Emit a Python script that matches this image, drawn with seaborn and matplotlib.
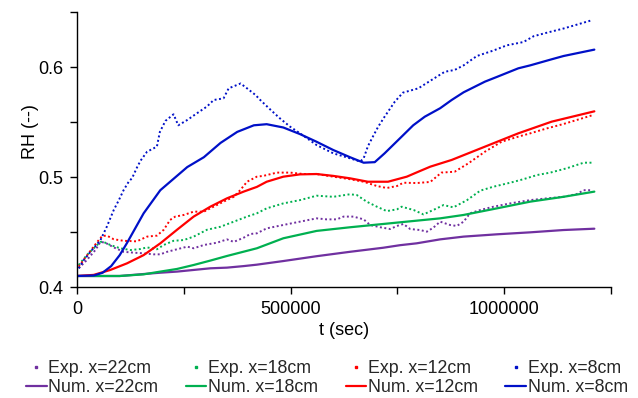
import matplotlib
matplotlib.use("Agg")
import matplotlib.pyplot as plt
from matplotlib.lines import Line2D
import pandas as pd
import seaborn as sns

# ---------------- data (t in seconds, RH in --) ----------------
exp22_t = [4e3, 23e3, 43e3, 55e3, 66e3, 86e3, 109e3, 133e3, 156e3, 179e3, 195e3, 211e3, 234e3, 258e3,
           273e3, 297e3, 328e3, 351e3, 367e3, 390e3, 406e3, 421e3, 444e3, 483e3, 522e3, 561e3, 584e3,
           608e3, 624e3, 647e3, 671e3, 686e3, 710e3, 733e3, 749e3, 764e3, 780e3, 803e3, 819e3, 834e3,
           850e3, 873e3, 889e3, 905e3, 920e3, 944e3, 975e3, 1014e3, 1061e3, 1100e3, 1139e3, 1170e3,
           1186e3, 1205e3]
exp22_rh = [0.417, 0.4245, 0.4336, 0.441, 0.4403, 0.436, 0.432, 0.4312, 0.4306, 0.4297, 0.4297, 0.432,
            0.4343, 0.4367, 0.4352, 0.4382, 0.4403, 0.4433, 0.441, 0.4448, 0.4482, 0.4488, 0.4533, 0.4564,
            0.4594, 0.4624, 0.4615, 0.4615, 0.464, 0.464, 0.4615, 0.4564, 0.4543, 0.4527, 0.4555, 0.4573,
            0.4527, 0.4518, 0.4503, 0.4539, 0.4594, 0.4564, 0.4555, 0.4594, 0.467, 0.47, 0.473, 0.476,
            0.479, 0.4806, 0.482, 0.4845, 0.488, 0.488]

exp18_t = [4e3, 23e3, 43e3, 55e3, 62e3, 78e3, 101e3, 125e3, 148e3, 164e3, 187e3, 203e3, 226e3, 250e3,
           273e3, 304e3, 336e3, 367e3, 398e3, 421e3, 444e3, 483e3, 522e3, 561e3, 600e3, 639e3, 655e3,
           678e3, 702e3, 725e3, 749e3, 760e3, 788e3, 811e3, 834e3, 858e3, 881e3, 913e3, 944e3, 975e3,
           1014e3, 1045e3, 1077e3, 1108e3, 1147e3, 1186e3, 1205e3]
exp18_rh = [0.42, 0.429, 0.4367, 0.441, 0.441, 0.4382, 0.4352, 0.4336, 0.4345, 0.436, 0.4343, 0.4382,
            0.442, 0.4427, 0.4458, 0.452, 0.4548, 0.4594, 0.464, 0.467, 0.4715, 0.476, 0.479, 0.483,
            0.482, 0.4843, 0.4836, 0.4776, 0.473, 0.469, 0.4706, 0.473, 0.47, 0.466, 0.47, 0.4745,
            0.4724, 0.479, 0.4876, 0.4912, 0.4948, 0.498, 0.5018, 0.504, 0.508, 0.513, 0.513]

exp12_t = [4e3, 20e3, 39e3, 51e3, 59e3, 70e3, 86e3, 109e3, 140e3, 164e3, 187e3, 203e3, 218e3, 230e3,
           250e3, 273e3, 297e3, 312e3, 343e3, 367e3, 382e3, 398e3, 421e3, 436e3, 468e3, 499e3, 530e3,
           561e3, 600e3, 639e3, 671e3, 702e3, 725e3, 749e3, 764e3, 795e3, 827e3, 853e3, 884e3, 916e3,
           955e3, 994e3, 1033e3, 1061e3, 1100e3, 1139e3, 1205e3]
exp12_rh = [0.4185, 0.427, 0.4367, 0.4427, 0.4464, 0.4467, 0.4434, 0.442, 0.4415, 0.4458, 0.4467, 0.452,
            0.461, 0.464, 0.4655, 0.4685, 0.4685, 0.4715, 0.4776, 0.482, 0.488, 0.4957, 0.5003, 0.501,
            0.504, 0.504, 0.5027, 0.5027, 0.5003, 0.498, 0.4957, 0.4918, 0.49, 0.4918, 0.4948, 0.4945,
            0.4955, 0.504, 0.5048, 0.5124, 0.523, 0.5321, 0.5367, 0.5397, 0.5442, 0.5482, 0.556]

exp8_t = [4e3, 16e3, 35e3, 55e3, 70e3, 86e3, 98e3, 109e3, 121e3, 129e3, 142e3, 150e3, 164e3, 187e3,
          194e3, 207e3, 226e3, 237e3, 258e3, 281e3, 304e3, 320e3, 343e3, 355e3, 383e3, 398e3, 418e3,
          429e3, 452e3, 475e3, 499e3, 522e3, 561e3, 600e3, 639e3, 663e3, 671e3, 681e3, 693e3, 705e3,
          720e3, 744e3, 763e3, 799e3, 830e3, 861e3, 884e3, 905e3, 936e3, 975e3, 1006e3, 1045e3,
          1069e3, 1100e3, 1139e3, 1170e3, 1205e3]
exp8_rh = [0.417, 0.4245, 0.4336, 0.4427, 0.455, 0.47, 0.479, 0.488, 0.4957, 0.499, 0.51, 0.5155,
           0.523, 0.5276, 0.541, 0.551, 0.557, 0.547, 0.5518, 0.558, 0.564, 0.57, 0.5715, 0.5806, 0.585,
           0.5806, 0.5745, 0.57, 0.5615, 0.5533, 0.5457, 0.5397, 0.529, 0.5215, 0.517, 0.514, 0.517,
           0.528, 0.537, 0.5457, 0.5548, 0.5685, 0.5767, 0.5806, 0.5882, 0.5957, 0.5973, 0.6015, 0.61,
           0.615, 0.6197, 0.6227, 0.628, 0.6312, 0.635, 0.6385, 0.6425]

num22_t = [0, 100e3, 156e3, 195e3, 234e3, 273e3, 312e3, 351e3, 390e3, 421e3, 483e3, 561e3, 639e3,
           717e3, 756e3, 795e3, 850e3, 905e3, 983e3, 1061e3, 1139e3, 1211e3]
num22_rh = [0.41, 0.41, 0.4118, 0.413, 0.414, 0.4155, 0.417, 0.4176, 0.419, 0.4203, 0.4236, 0.428,
            0.432, 0.4357, 0.438, 0.4397, 0.4433, 0.4458, 0.4479, 0.4497, 0.4518, 0.453]

num18_t = [0, 100e3, 156e3, 195e3, 234e3, 273e3, 312e3, 351e3, 390e3, 421e3, 483e3, 561e3, 639e3,
           717e3, 795e3, 850e3, 905e3, 983e3, 1061e3, 1139e3, 1211e3]
num18_rh = [0.41, 0.41, 0.4115, 0.414, 0.4164, 0.42, 0.424, 0.4282, 0.4321, 0.4352, 0.4443, 0.451,
            0.4543, 0.4573, 0.4603, 0.4624, 0.4655, 0.4715, 0.4776, 0.482, 0.4867]

num12_t = [0, 39e3, 78e3, 117e3, 156e3, 195e3, 234e3, 273e3, 312e3, 351e3, 390e3, 421e3, 444e3,
           483e3, 522e3, 561e3, 600e3, 639e3, 681e3, 728e3, 772e3, 799e3, 827e3, 877e3, 955e3,
           1033e3, 1111e3, 1211e3]
num12_rh = [0.41, 0.411, 0.4155, 0.4215, 0.429, 0.4397, 0.452, 0.464, 0.473, 0.4806, 0.4867, 0.491,
            0.4957, 0.5003, 0.5024, 0.5027, 0.501, 0.4988, 0.4957, 0.4957, 0.5003, 0.5048, 0.5094,
            0.5155, 0.5276, 0.5397, 0.5503, 0.5597]

num8_t = [0, 40e3, 60e3, 80e3, 100e3, 117e3, 156e3, 195e3, 222e3, 258e3, 297e3, 336e3, 375e3, 414e3,
          444e3, 483e3, 522e3, 561e3, 600e3, 639e3, 671e3, 697e3, 720e3, 760e3, 787e3, 814e3, 850e3,
          877e3, 905e3, 955e3, 983e3, 1033e3, 1061e3, 1111e3, 1139e3, 1211e3]
num8_rh = [0.41, 0.4105, 0.413, 0.419, 0.429, 0.44, 0.467, 0.488, 0.497, 0.509, 0.518, 0.531, 0.541,
           0.547, 0.548, 0.545, 0.539, 0.532, 0.5245, 0.518, 0.513, 0.5135, 0.5215, 0.5367, 0.547,
           0.5548, 0.5625, 0.57, 0.577, 0.5867, 0.591, 0.5988, 0.6015, 0.607, 0.61, 0.6158]

labels_exp = ["Exp. x=22cm", "Exp. x=18cm", "Exp. x=12cm", "Exp. x=8cm"]
labels_num = ["Num. x=22cm", "Num. x=18cm", "Num. x=12cm", "Num. x=8cm"]
colors = ["#7030A0", "#00B050", "#FF0000", "#0010C8"]

x_ticks = [0, 250000, 500000, 750000, 1000000, 1250000]
x_labels = ["0", "", "500000", "", "1000000", ""]
y_ticks = [0.4, 0.45, 0.5, 0.55, 0.6, 0.65]
y_labels = ["0.4", "", "0.5", "", "0.6", ""]

# ---------------- plotting ----------------
sns.set_theme(style="white")
plt.rcParams["font.family"] = ["Liberation Sans", "DejaVu Sans"]

fig = plt.figure(figsize=(6.38, 3.98), dpi=100)
ax = fig.add_axes([77 / 638, 1 - 287 / 398, (611 - 77) / 638, (287 - 12) / 398])

exp_series = [(exp22_t, exp22_rh), (exp18_t, exp18_rh), (exp12_t, exp12_rh), (exp8_t, exp8_rh)]
num_series = [(num22_t, num22_rh), (num18_t, num18_rh), (num12_t, num12_rh), (num8_t, num8_rh)]

for (t, rh), c in zip(exp_series, colors):
    df = pd.DataFrame({"t": t, "rh": rh})
    sns.lineplot(data=df, x="t", y="rh", ax=ax, color=c, linewidth=1.4,
                 linestyle=(0, (1, 1.3)), estimator=None, sort=False)
for (t, rh), c in zip(num_series, colors):
    df = pd.DataFrame({"t": t, "rh": rh})
    sns.lineplot(data=df, x="t", y="rh", ax=ax, color=c, linewidth=1.6,
                 estimator=None, sort=False)

ax.set_xlim(0, 1250000)
ax.set_ylim(0.4, 0.65)
ax.set_xticks(x_ticks)
ax.set_xticklabels(x_labels)
ax.set_yticks(y_ticks)
ax.set_yticklabels(y_labels)

for s in ["top", "right"]:
    ax.spines[s].set_visible(False)
for s in ["left", "bottom"]:
    ax.spines[s].set_color("black")
    ax.spines[s].set_linewidth(1.0)

ax.tick_params(axis="both", which="major", direction="out", length=5, width=1.0,
               color="black", labelsize=13, labelcolor="black", pad=5,
               left=True, bottom=True)
ax.set_xlabel("t (sec)", fontsize=13, color="black", labelpad=3)
ax.set_ylabel("RH (--)", fontsize=13, color="black")
ax.yaxis.set_label_coords(-0.072, 0.567)
ax.grid(False)

handles = []
legend_labels = []
for le, ln, c in zip(labels_exp, labels_num, colors):
    handles.append(Line2D([], [], color=c, marker="s", markersize=2, linestyle="none"))
    legend_labels.append(le)
    handles.append(Line2D([], [], color=c, linewidth=1.6))
    legend_labels.append(ln)

fig.legend(handles, legend_labels, loc="center", bbox_to_anchor=(327 / 638, 1 - 378 / 398),
           ncol=4, frameon=False, fontsize=12.8, handlelength=1.15, handletextpad=0.1,
           columnspacing=1.55, labelspacing=0.12, borderpad=0, borderaxespad=0)

fig.savefig("out.png", dpi=100)
